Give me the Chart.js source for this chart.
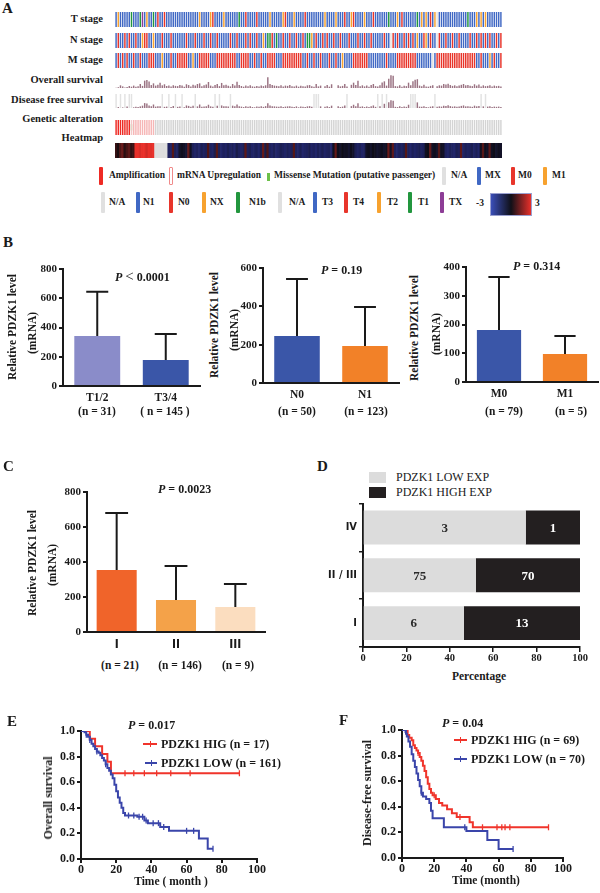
<!DOCTYPE html>
<html><head><meta charset="utf-8">
<script src="https://cdn.jsdelivr.net/npm/chart.js@4.4.0/dist/chart.umd.min.js"></script>
<style>
html,body{margin:0;padding:0;background:#fff;}
#page{position:relative;width:600px;height:893px;overflow:hidden;background:#fff;font-family:'Liberation Serif','Times New Roman',serif;color:#1a1a1a;}
canvas{position:absolute;}
.t{position:absolute;white-space:nowrap;font-weight:bold;line-height:1;}
.r{position:absolute;box-sizing:border-box;}
</style></head><body><div id="page"></div>
<script>
// ===================== DATA =====================
// Panel A – per-sample tracks (176 samples, read left to right)
const tStageCodes = "3233333133 31X3233134 3343333333 3333333323 3332433332 3333331334 3333433333 2333332433 3233334333 3333323333 2333433243 3332333433 3333133323 4333333132 323432_333 3333333333 1333232323 333333";
const nStageCodes = "1011010110 11X0011X11 1011101111 1101110111 0110110111 1101101110 1011011X1b b01b110110 1101101bbX 1011010110 1101110111 0110110111 11011_0101 1010101X11 0X1011_011 0110110111 1011010101 011010";
const mStageCodes = "X0X0X0XX0X X0XXX000XX X1XXX0XX00 000XX1XX00 000XXX0000 00000XX000 0XX0XX0XX0 000XXX0000 00000XX0XX 0XX0XXX0XX 0XX1XXXX00 00000XXXXX XXX0XXXX00 0000000XXX XXXX_X0000 0000000000 0000XX0XXX 1X0XX0";
const alterationCodes = "AAAAAAAMUU UUUUUUUU__ __________ __________ __________ __________ __________ __________ __________ __________ __________ __________ __________ __________ __________ __________ __________ ______";
const osMonths = [2,6,20,12,4,8,15,10,18,9, 14,30,16,55,60,48,22,35,18,25, 40,20,28,15,18,12,20,16,14,22, 18,10,28,22,12,25,18,30,35,14,
  20,26,45,18,12,22,30,14,38,20, 24,16,12,30,18,46,22,15,10,18, 14,20,12,10,15,12,18,14,20,80, 30,22,18,16,14,20,12,18,16,22,
  14,12,18,10,16,14,12,20,22,14, 10,30,12,18,0,14,22,10,28,0, 0,20,12,16,30,12,0,24,40,22, 55,14,20,12,18,10,22,30,14,12,
  20,42,50,18,70,96,92,14,12,20, 10,16,14,40,20,50,62,66,18,14, 24,12,10,16,20,0,14,20,18,30, 26,32,22,16,20,14,18,24,30,20,
  22,16,14,28,18,26,12,20,14,16, 20,12,18,14,16,12];
const dfsMonths = [null,8,null,5,null,12,null,null,6,10, 8,14,20,42,38,22,15,30,12,16, 14,null,10,12,null,8,18,null,10,12,
  null,6,22,18,10,20,null,14,30,10, 12,16,28,14,10,null,20,null,22,14, 16,12,null,20,14,30,16,12,8,14, 10,16,8,6,12,10,14,10,16,40,
  22,16,14,12,10,14,8,12,14,16, 10,8,14,6,12,10,8,14,16,10, null,null,null,14,0,10,16,8,20,0, 0,14,8,12,22,null,0,16,28,14,
  40,10,14,8,12,8,16,22,10,null, 14,null,36,null,50,66,62,10,8,14, 8,12,10,28,null,null,null,48,12,10, 16,8,6,12,14,null,10,14,12,20,
  18,24,16,12,14,10,12,18,22,14, 16,12,10,20,14,18,null,14,null,12, 14,8,12,10,12,8];
const heatZ = [0.6,0.2,0.9,1.3,0.4,0.8,1.1,0.5,0.7,3.0, 3.0,2.8,3.0,3.0,2.7,3.0,2.9,3.0,null,null,
  null,null,null,null,-1.6,-1.8,1.0,-1.5,-1.7,-0.6, -0.3,-0.5,-0.8,1.2,-0.4,-1.5,-1.8,-1.6,-1.9,-1.4,
  -1.7,-1.5,0.9,-1.6,-1.8,-1.3,1.0,-1.5,-1.9,-1.6, -1.8,-1.4,-1.7,-1.5,-1.9,-1.2,-1.6,-1.8,-1.5,1.1,
  -1.6,-1.4,-1.8,-1.7,-1.5,-1.9,-1.3,1.2,-1.2,0.9, -1.6,-1.8,-1.5,-1.9,-1.7,-1.4,-1.6,-1.8,-1.5,-1.7,
  -1.5,1.0,-1.6,-1.8,-1.4,-1.9,-1.7,-1.6,-1.3,-1.8, -1.6,-1.9,-1.5,-1.7,-1.4,-1.8,-1.6,-1.5,-1.9,-0.4,
  1.2,-0.3,-0.6,-0.2,-0.5,-0.4,-0.7,-0.3,-0.6,-1.4, -1.7,-1.5,-1.8,-1.6,-0.5,-0.3,-0.6,-0.2,-0.4,-0.7,
  -0.5,-0.3,-0.6,-0.4,1.3,-0.5,1.1,-1.6,-1.8,-1.5, -1.7,-1.4,1.0,-1.6,-1.9,-1.5,-1.8,-1.6,-1.4,-1.7,
  -1.5,-0.4,-0.2,1.2,-0.5,-0.3,-0.6,1.0,-0.4,-0.5, -1.6,-1.8,-1.5,-1.7,-1.9,-1.4,-1.6,1.1,-1.8,-1.5,
  -1.7,-1.6,-1.4,-1.8,-1.5,-1.9,-0.4,1.0,-0.3,-0.5, 1.1,-0.4,-0.2,-0.6,-0.3,-0.5];

// Panel B
const tLabels = ["T1/2", "T3/4"];
const tMean = [342, 178];
const tUpper = [645, 356];
const tCounts = ["(n = 31)", "( n = 145 )"];
const nLabels = ["N0", "N1"];
const nMean = [245, 193];
const nUpper = [543, 397];
const nCounts = ["(n = 50)", "(n = 123)"];
const mLabels = ["M0", "M1"];
const mMean = [181, 97];
const mUpper = [365, 160];
const mCounts = ["(n = 79)", "(n = 5)"];
// Panel C
const stageLabels = ["I", "II", "III"];
const stageMean = [354, 183, 143];
const stageUpper = [680, 377, 274];
const stageCounts = ["(n = 21)", "(n = 146)", "(n = 9)"];
// Panel D
const dLabels = ["IV", "II / III", "I"];
const dLowPct = [75, 52, 46.5];
const dHighPct = [25, 48, 53.5];
const dLowN = ["3", "75", "6"];
const dHighN = ["1", "70", "13"];
// Panel E  (time in months, survival)
const osHighT = [0, 5, 8, 12, 15, 17, 90];
const osHighS = [1.0, 0.94, 0.88, 0.82, 0.76, 0.67, 0.67];
const osHighCens = [25, 30, 36, 43, 51, 62, 90];
const osLowT = [0, 2, 3, 4, 5, 6, 7, 8, 9, 10, 11, 12, 13, 14, 15, 16, 17, 18, 19, 20, 21, 22, 23, 24, 25, 32, 36, 38, 45, 50, 67, 72, 75];
const osLowS = [1.0, 0.99, 0.97, 0.955, 0.93, 0.90, 0.88, 0.86, 0.84, 0.83, 0.81, 0.79, 0.77, 0.74, 0.71, 0.69, 0.66, 0.63, 0.58, 0.53, 0.48, 0.44, 0.40, 0.36, 0.34, 0.33, 0.30, 0.28, 0.25, 0.22, 0.16, 0.08, 0.08];
const osLowCens = [3, 5, 9, 14, 27, 30, 33, 35, 37, 41, 44, 47, 60, 64, 75];
// Panel F
const dfsHighT = [0, 3.5, 4.5, 6, 7, 8, 9, 10, 11, 12, 13, 14, 15, 16, 17, 18, 19, 21, 23, 25, 28, 31, 34, 42, 44, 91];
const dfsHighS = [1.0, 0.96, 0.94, 0.92, 0.88, 0.86, 0.84, 0.82, 0.79, 0.76, 0.72, 0.68, 0.63, 0.58, 0.54, 0.51, 0.49, 0.46, 0.43, 0.41, 0.38, 0.35, 0.32, 0.28, 0.24, 0.24];
const dfsHighCens = [2.5, 10, 20, 36, 50, 59, 62, 64, 67, 91];
const dfsLowT = [0, 2.5, 3, 4, 5, 6, 7, 8, 9, 10, 11, 12, 13, 15, 17, 18, 19, 26, 40, 53, 60, 69];
const dfsLowS = [1.0, 0.97, 0.95, 0.91, 0.87, 0.81, 0.76, 0.71, 0.66, 0.61, 0.56, 0.51, 0.48, 0.46, 0.43, 0.37, 0.31, 0.24, 0.21, 0.14, 0.07, 0.07];
const dfsLowCens = [2, 12, 39, 69];

// ===================== STYLE =====================
const INK = '#1a1a1a';
const SERIF = "'Liberation Serif','Times New Roman',serif";
const NARROW = "'Liberation Sans Narrow','DejaVu Sans Condensed','Liberation Sans',sans-serif";
const C_BLUE = '#4068C4', C_RED = '#E8352B', C_ORANGE = '#F7A22F', C_GREEN = '#22963E', C_PURPLE = '#8D3D96', C_NA = '#E4E4E4';
const T_COL = {'3': C_BLUE, '4': C_RED, '2': C_ORANGE, '1': C_GREEN, 'X': C_PURPLE, '_': C_NA};
const N_COL = {'1': C_BLUE, '0': C_RED, 'X': C_ORANGE, 'b': C_GREEN, '_': C_NA};
const M_COL = {'X': C_BLUE, '0': C_RED, '1': C_ORANGE, '_': C_NA};
const GA_COL = {'A': '#EE2A24', 'U': '#F6B6B6', 'M': '#F2C8C8', '_': '#D4D4D4'};
const BAR_MAUVE = '#9A7282';
const OS_MAX = 120, DFS_MAX = 120;

Chart.defaults.font.family = SERIF;
Chart.defaults.font.weight = 'bold';
Chart.defaults.font.size = 11;
Chart.defaults.color = INK;

const page = document.getElementById('page');
const codes = s => s.replace(/ /g, '').split('');
const tStage = codes(tStageCodes), nStage = codes(nStageCodes), mStage = codes(mStageCodes), alteration = codes(alterationCodes);
const sampleIds = heatZ.map((_, i) => 'S' + (i + 1));

function T(html, x, y, o = {}) {
  const d = document.createElement('div');
  d.className = 't';
  d.innerHTML = html;
  d.style.fontSize = (o.size || 12) + 'px';
  if (o.weight) d.style.fontWeight = o.weight;
  if (o.family) d.style.fontFamily = o.family;
  if (o.color) d.style.color = o.color;
  d.style.left = x + 'px'; d.style.top = y + 'px';
  const ax = o.align === 'right' ? '-100%' : o.align === 'center' ? '-50%' : '0';
  d.style.transform = o.rot ? `translate(-50%,-50%) rotate(${o.rot}deg)` : `translate(${ax},-50%)`;
  page.appendChild(d);
}
function R(x, y, w, h, css) {
  const d = document.createElement('div');
  d.className = 'r';
  d.style.cssText += `left:${x}px;top:${y}px;width:${w}px;height:${h}px;` + css;
  page.appendChild(d);
}
function mkCanvas(l, t, w, h) {
  const c = document.createElement('canvas');
  c.width = w; c.height = h;
  c.style.left = l + 'px'; c.style.top = t + 'px';
  c.style.width = w + 'px'; c.style.height = h + 'px';
  page.appendChild(c);
  return c;
}
function axisChart(box, area, config) {
  const c = mkCanvas(box.left, box.top, box.width, box.height);
  const o = config.options;
  o.responsive = false; o.animation = false; o.events = [];
  o.layout = {padding: {left: 0, top: area.top - box.top, right: box.left + box.width - area.right, bottom: 0}};
  o.scales.y.afterFit = s => { s.width = area.left - box.left; };
  o.scales.x.afterFit = s => { s.height = box.top + box.height - area.bottom; };
  o.plugins = Object.assign({legend: {display: false}, tooltip: {enabled: false}}, o.plugins || {});
  return new Chart(c, config);
}
function trackChart(box, datasets, ymax) {
  const c = mkCanvas(box.left, box.top, box.width, box.height);
  return new Chart(c, {
    type: 'bar',
    data: {labels: sampleIds, datasets},
    options: {
      responsive: false, animation: false, events: [],
      layout: {padding: 0},
      plugins: {legend: {display: false}, tooltip: {enabled: false}},
      scales: {x: {display: false}, y: {display: false, min: 0, max: ymax}}
    }
  });
}
function heatColor(z) {
  if (z === null) return '#DEDEDE';
  const a = Math.min(1, Math.abs(z) / 3);
  const end = z < 0 ? [46, 54, 160] : [232, 48, 42];
  const base = [12, 10, 14];
  const c = base.map((b, i) => Math.round(b + (end[i] - b) * a));
  return `rgb(${c[0]},${c[1]},${c[2]})`;
}

// ===================== PANEL A =====================
T('A', 2, 8, {size: 15});
const aLabelX = 103, aFont = 10.5;
[['T stage', 19], ['N stage', 40], ['M stage', 60], ['Overall survival', 80], ['Disease free survival', 100], ['Genetic alteration', 119], ['Heatmap', 138]]
  .forEach(([s, y]) => T(s, aLabelX, y, {size: aFont, align: 'right'}));

const TX = 115, TW = 387;
const stripe = {barPercentage: 0.66, categoryPercentage: 1, grouped: false};
trackChart({left: TX, top: 12, width: TW, height: 15},
  [Object.assign({data: tStage.map(() => 1), backgroundColor: tStage.map(c => T_COL[c])}, stripe)], 1);
trackChart({left: TX, top: 33, width: TW, height: 15},
  [Object.assign({data: nStage.map(() => 1), backgroundColor: nStage.map(c => N_COL[c])}, stripe)], 1);
trackChart({left: TX, top: 53, width: TW, height: 15},
  [Object.assign({data: mStage.map(() => 1), backgroundColor: mStage.map(c => M_COL[c])}, stripe)], 1);
trackChart({left: TX, top: 72, width: TW, height: 16},
  [Object.assign({data: osMonths, backgroundColor: BAR_MAUVE}, stripe)], OS_MAX);
trackChart({left: TX, top: 94, width: TW, height: 14}, [
  Object.assign({data: dfsMonths.map(v => v === null ? DFS_MAX : null), backgroundColor: '#E2E2E2'}, stripe),
  Object.assign({data: dfsMonths, backgroundColor: BAR_MAUVE}, stripe)], DFS_MAX);
trackChart({left: TX, top: 120, width: TW, height: 15}, [
  Object.assign({data: alteration.map(() => 1), backgroundColor: alteration.map(c => GA_COL[c])}, stripe),
  {data: alteration.map(c => c === 'M' ? [0.3, 0.72] : null), backgroundColor: '#5DBB46', barPercentage: 0.6, categoryPercentage: 1, grouped: false}], 1);
trackChart({left: TX, top: 143, width: TW, height: 15},
  [{data: heatZ.map(() => 1), backgroundColor: heatZ.map(heatColor), barPercentage: 1, categoryPercentage: 1, grouped: false}], 1);

// Panel A legend
const lf = 9.5;
function glyph(x, y, h, col, css = '') { R(x, y, 4, h, `background:${col};border-radius:1px;` + css); }
glyph(99, 167, 18, '#EE2A24'); T('Amplification', 109, 176, {size: lf});
R(169, 167, 4, 18, 'background:#fff;border:1px solid #F08A8A;border-radius:1px;'); T('mRNA Upregulation', 177, 176, {size: lf});
R(267, 173, 3, 8, 'background:#6CC04A;'); T('Missense Mutation (putative passenger)', 274, 176, {size: lf});
glyph(442, 167, 18, '#E0E0E0'); T('N/A', 451, 176, {size: lf});
glyph(477, 167, 18, C_BLUE); T('MX', 485, 176, {size: lf});
glyph(511, 167, 18, C_RED); T('M0', 518, 176, {size: lf});
glyph(543, 167, 18, C_ORANGE); T('M1', 552, 176, {size: lf});
const row2 = [[101, '#E0E0E0', 'N/A', 109], [136, C_BLUE, 'N1', 143], [169, C_RED, 'N0', 178], [202, C_ORANGE, 'NX', 210], [236, C_GREEN, 'N1b', 249],
  [278, '#E0E0E0', 'N/A', 289], [313, C_BLUE, 'T3', 322], [344, C_RED, 'T4', 353], [377, C_ORANGE, 'T2', 387], [408, C_GREEN, 'T1', 418], [440, C_PURPLE, 'TX', 449]];
row2.forEach(([gx, col, s, tx]) => { glyph(gx, 192, 21, col); T(s, tx, 203, {size: lf}); });
T('-3', 476, 204, {size: lf});
R(490, 193, 42, 23, 'background:linear-gradient(to right,#3A4EB8,#101018 50%,#E8302A);border:1px solid #9aa0d0;');
T('3', 535, 204, {size: lf});

// ===================== ERROR BARS / LABELS PLUGINS =====================
const errorBarPlugin = {
  id: 'errbars',
  afterDatasetsDraw(chart, args, opts) {
    const up = opts.upper; if (!up) return;
    const meta = chart.getDatasetMeta(0), ys = chart.scales.y, ctx = chart.ctx;
    const vals = chart.data.datasets[0].data;
    ctx.save(); ctx.strokeStyle = INK; ctx.lineWidth = 2; ctx.lineCap = 'butt';
    meta.data.forEach((bar, i) => {
      const yb = ys.getPixelForValue(vals[i]), yt = ys.getPixelForValue(up[i]);
      const half = bar.width * opts.cap / 2;
      ctx.beginPath();
      ctx.moveTo(bar.x, yb); ctx.lineTo(bar.x, yt);
      ctx.moveTo(bar.x - half, yt); ctx.lineTo(bar.x + half, yt);
      ctx.stroke();
    });
    ctx.restore();
  }
};
function yLin(max, step, size = 11) {
  return {min: 0, max, ticks: {stepSize: step, padding: 2, font: {size, weight: 'bold'}},
    grid: {display: true, drawOnChartArea: false, drawTicks: true, tickLength: 4, lineWidth: 2, color: INK},
    border: {display: true, width: 2, color: INK}};
}
function xCat(pad, font) {
  return {grid: {display: false, drawTicks: false, tickLength: 0}, border: {display: true, width: 2, color: INK},
    ticks: {padding: pad, font: font || {size: 11.5, weight: 'bold'}}};
}
function barChart(box, area, labels, mean, upper, colors, max, step, bp, cap, tickPad, tickFont) {
  return axisChart(box, area, {
    type: 'bar',
    data: {labels, datasets: [{data: mean, backgroundColor: colors, borderWidth: 0, barPercentage: bp, categoryPercentage: 1}]},
    options: {scales: {x: xCat(tickPad, tickFont), y: yLin(max, step)}, plugins: {errbars: {upper, cap}}},
    plugins: [errorBarPlugin]
  });
}

// ===================== PANEL B =====================
T('B', 3, 242, {size: 15});
barChart({left: 18, top: 258, width: 190, height: 150}, {left: 63, top: 269, right: 200, bottom: 386},
  tLabels, tMean, tUpper, ['#8A8CC9', '#3A56A8'], 800, 200, 0.67, 0.48, 5);
barChart({left: 225, top: 258, width: 180, height: 150}, {left: 263, top: 268, right: 399, bottom: 383},
  nLabels, nMean, nUpper, ['#3A56A8', '#F28128'], 600, 200, 0.67, 0.48, 5);
barChart({left: 425, top: 257, width: 175, height: 150}, {left: 466, top: 267, right: 598, bottom: 382},
  mLabels, mMean, mUpper, ['#3A56A8', '#F28128'], 400, 100, 0.67, 0.48, 5);
[[13, 327, 33, 333], [215, 325, 235, 330], [415, 328, 437, 334]].forEach(([x1, y1, x2, y2]) => {
  T('Relative PDZK1 level', x1, y1, {size: 11.5, rot: -90});
  T('(mRNA)', x2, y2, {size: 11.5, rot: -90});
});
T('<i>P</i> <span style="font-size:15px;font-weight:normal">&lt;</span> 0.0001', 115, 276, {size: 12});
T('<i>P</i> = 0.19', 321, 270, {size: 12});
T('<i>P</i> = 0.314', 513, 266, {size: 12});
[[97, tCounts[0]], [165, tCounts[1]], [297, nCounts[0]], [366, nCounts[1]], [504, mCounts[0]], [571, mCounts[1]]]
  .forEach(([x, s]) => T(s, x, 412, {size: 11.5, align: 'center'}));

// ===================== PANEL C =====================
T('C', 3, 466, {size: 15});
barChart({left: 58, top: 482, width: 215, height: 175}, {left: 87, top: 492, right: 265, bottom: 632},
  stageLabels, stageMean, stageUpper, ['#F0642A', '#F4A249', '#FBDDBF'], 800, 200, 0.675, 0.57, 6,
  {family: NARROW, size: 12, weight: 'bold'});
T('Relative PDZK1 level', 33, 563, {size: 11.5, rot: -90});
T('(mRNA)', 53, 565, {size: 11.5, rot: -90});
T('<i>P</i> = 0.0023', 158, 489, {size: 12});
[[120, stageCounts[0]], [180, stageCounts[1]], [238, stageCounts[2]]].forEach(([x, s]) => T(s, x, 666, {size: 11.5, align: 'center'}));

// ===================== PANEL D =====================
T('D', 317, 466, {size: 15});
R(369, 472, 17, 11, 'background:#DCDCDC;');
T('PDZK1 LOW EXP', 396, 477, {size: 12, weight: 'normal'});
R(369, 487, 17, 11, 'background:#231F20;');
T('PDZK1 HIGH EXP', 396, 492, {size: 12, weight: 'normal'});
const segLabelPlugin = {
  id: 'seglabels',
  afterDatasetsDraw(chart, args, opts) {
    const ctx = chart.ctx;
    ctx.save(); ctx.font = `bold 13px ${SERIF}`; ctx.textAlign = 'center'; ctx.textBaseline = 'middle';
    chart.data.datasets.forEach((ds, di) => {
      chart.getDatasetMeta(di).data.forEach((bar, i) => {
        ctx.fillStyle = opts.colors[di];
        ctx.fillText(opts.text[di][i], (bar.x + bar.base) / 2, bar.y + 1);
      });
    });
    ctx.restore();
  }
};
axisChart({left: 320, top: 495, width: 280, height: 175}, {left: 363, top: 503, right: 580, bottom: 647}, {
  type: 'bar',
  data: {labels: dLabels, datasets: [
    {data: dLowPct, backgroundColor: '#DCDCDC', borderWidth: 0, barPercentage: 0.71, categoryPercentage: 1},
    {data: dHighPct, backgroundColor: '#231F20', borderWidth: 0, barPercentage: 0.71, categoryPercentage: 1}]},
  options: {
    indexAxis: 'y',
    scales: {
      x: {stacked: true, min: 0, max: 100, ticks: {stepSize: 20, padding: 0, font: {size: 10.5, weight: 'bold'}},
        grid: {display: true, drawOnChartArea: false, tickLength: 5, lineWidth: 1.5, color: INK}, border: {display: true, width: 2, color: INK}},
      y: {stacked: true, ticks: {padding: 2, font: {family: NARROW, size: 11, weight: 'bold'}},
        grid: {display: true, drawOnChartArea: false, tickLength: 4, lineWidth: 1.5, color: INK}, border: {display: true, width: 2, color: INK}}
    },
    plugins: {seglabels: {text: [dLowN, dHighN], colors: ['#2a2a2a', '#ffffff']}}
  },
  plugins: [segLabelPlugin]
});
T('Percentage', 479, 677, {size: 11.5, align: 'center'});

// ===================== PANELS E / F =====================
const pts = (t, s) => t.map((v, i) => ({x: v, y: s[i]}));
const survAt = (t, s) => x => { let k = 0; t.forEach((v, i) => { if (v <= x) k = i; }); return s[k]; };
const censPts = (c, t, s) => c.map(x => ({x, y: survAt(t, s)(x)}));
const KM_RED = '#F0342B', KM_BLUE = '#3A45AA';
function kmChart(box, area, hi, lo) {
  const ds = (d, col) => ({type: 'line', data: d, borderColor: col, borderWidth: 2, stepped: true, pointRadius: 0, fill: false});
  const cs = (d, col) => ({type: 'scatter', data: d, borderColor: col, backgroundColor: col, pointStyle: 'line', rotation: 90, pointRadius: 3, borderWidth: 1.3});
  return axisChart(box, area, {
    type: 'line',
    data: {datasets: [ds(lo.line, KM_BLUE), cs(lo.cens, KM_BLUE), ds(hi.line, KM_RED), cs(hi.cens, KM_RED)]},
    options: {
      scales: {
        x: {type: 'linear', min: 0, max: 100, ticks: {stepSize: 20, padding: 0, font: {size: 12, weight: 'bold'}},
          grid: {display: true, drawOnChartArea: false, tickLength: 4, lineWidth: 2, color: INK}, border: {display: true, width: 2, color: INK}},
        y: {type: 'linear', min: 0, max: 1, ticks: {stepSize: 0.2, padding: 2, font: {size: 12, weight: 'bold'}, callback: v => v.toFixed(1)},
          grid: {display: true, drawOnChartArea: false, tickLength: 4, lineWidth: 2, color: INK}, border: {display: true, width: 2, color: INK}}
      }
    }
  });
}
function kmLegend(x1, x2, y, col, text) {
  R(x1, y - 1, x2 - x1, 2, `background:${col};`);
  R((x1 + x2) / 2 - 0.5, y - 3, 1.3, 6, `background:${col};`);
  T(text, x2 + 4, y, {size: 12});
}
T('E', 7, 721, {size: 15});
kmChart({left: 40, top: 720, width: 235, height: 160}, {left: 81, top: 731, right: 257, bottom: 859},
  {line: pts(osHighT, osHighS), cens: censPts(osHighCens, osHighT, osHighS)},
  {line: pts(osLowT, osLowS), cens: censPts(osLowCens, osLowT, osLowS)});
T('<i>P</i> = 0.017', 128, 725, {size: 12});
kmLegend(143, 157, 744, KM_RED, 'PDZK1 HIG (n = 17)');
kmLegend(145, 157, 763, KM_BLUE, 'PDZK1 LOW (n = 161)');
T('Overall survival', 48, 798, {size: 12, rot: -90});
T('Time ( month )', 171, 882, {size: 11.5, align: 'center'});

T('F', 339, 720, {size: 15});
kmChart({left: 360, top: 719, width: 225, height: 160}, {left: 402, top: 730, right: 563, bottom: 858},
  {line: pts(dfsHighT, dfsHighS), cens: censPts(dfsHighCens, dfsHighT, dfsHighS)},
  {line: pts(dfsLowT, dfsLowS), cens: censPts(dfsLowCens, dfsLowT, dfsLowS)});
T('<i>P</i> = 0.04', 442, 723, {size: 12});
kmLegend(454, 467, 740, KM_RED, 'PDZK1 HIG (n = 69)');
kmLegend(454, 467, 759, KM_BLUE, 'PDZK1 LOW (n = 70)');
T('Disease-free survival', 367, 793, {size: 12, rot: -90});
T('Time (month)', 486, 881, {size: 11.5, align: 'center'});
</script></body></html>
